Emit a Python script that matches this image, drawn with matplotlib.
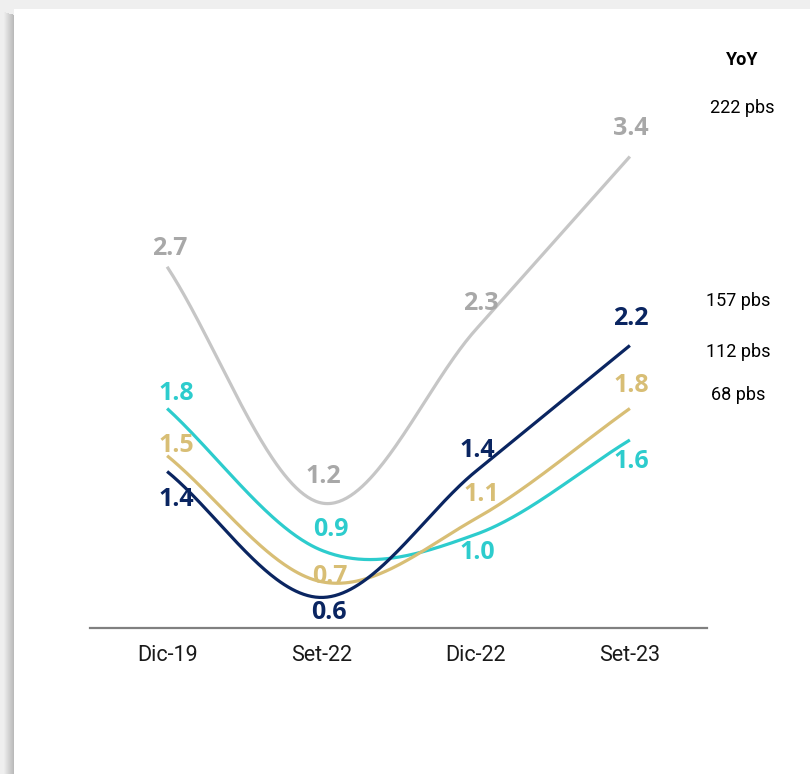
import matplotlib
matplotlib.use('Agg')
import matplotlib.pyplot as plt
from matplotlib.patches import Rectangle
import numpy as np

# data
periods = ['Dic-19', 'Set-22', 'Dic-22', 'Set-23']
gray_vals = [2.7, 1.2, 2.3, 3.4]
navy_vals = [1.4, 0.6, 1.4, 2.2]
gold_vals = [1.5, 0.7, 1.1, 1.8]
cyan_vals = [1.8, 0.9, 1.0, 1.6]
yoy_labels = ['222 pbs', '157 pbs', '112 pbs', '68 pbs']

# styles
c_gray_line = '#c6c6c6'
c_gray_text = '#a8a8a8'
c_navy = '#0a2561'
c_gold = '#d8be75'
c_cyan = '#2dcccd'

# label offsets in pixels (dx, dy with image y pointing down)
gray_off = [(3, -18), (2, -26), (5, -26), (1, -28)]
navy_off = [(9, 28), (8, 15), (2, -21), (1, -27)]
gold_off = [(9, -10), (8, -5), (6, -24), (1, -23)]
cyan_off = [(9, -15), (9, -21), (2, 18), (1, 22)]


def smooth(vals, n=80):
    # cubic hermite (catmull-rom style) through the points
    y = np.asarray(vals, dtype=float)
    k = len(y)
    m = np.zeros(k)
    m[1:-1] = (y[2:] - y[:-2]) / 2
    m[0] = y[1] - y[0]
    m[-1] = y[-1] - y[-2]
    xs, ys = [], []
    t = np.linspace(0, 1, n)
    for i in range(k - 1):
        h00 = 2*t**3 - 3*t**2 + 1
        h10 = t**3 - 2*t**2 + t
        h01 = -2*t**3 + 3*t**2
        h11 = t**3 - t**2
        xs.append(i + t)
        ys.append(h00*y[i] + h10*m[i] + h01*y[i+1] + h11*m[i+1])
    return np.concatenate(xs), np.concatenate(ys)


W, H = 810, 774
fig = plt.figure(figsize=(W/100, H/100), dpi=100)
fig.patch.set_facecolor('#efefef')

# white card with soft shadow on the left
for j in range(10):
    fig.patches.append(Rectangle(((4 + j)/W, 0), 1/W, (H - 12 - j*0.3)/H,
                                 transform=fig.transFigure, color='#777777',
                                 alpha=0.03 + 0.045*j, lw=0, zorder=-3))
fig.patches.append(Rectangle((14/W, 0), 1, (H - 9)/H, transform=fig.transFigure,
                             color='white', lw=0, zorder=-2))

ax = fig.add_axes([90/W, (H - 628)/H, 617/W, 528/H])
ax.set_facecolor('none')
ax.set_zorder(1)

x = np.arange(len(periods))
series = [
    (gray_vals, c_gray_line, c_gray_text, gray_off),
    (cyan_vals, c_cyan, c_cyan, cyan_off),
    (gold_vals, c_gold, c_gold, gold_off),
    (navy_vals, c_navy, c_navy, navy_off),
]
for vals, lc, tc, offs in series:
    sx, sy = smooth(vals)
    ax.plot(sx, sy, color=lc, lw=2.3, solid_capstyle='butt')
    for i, v in enumerate(vals):
        dx, dy = offs[i]
        ax.annotate(f'{v:.1f}', (x[i], v), xytext=(dx, -dy),
                    textcoords='offset pixels', ha='center', va='center',
                    fontsize=18, fontweight='bold', color=tc,
                    family='Open Sans')

ax.set_xlim(-0.5, 3.5)
ax.set_ylim(0.406, 3.759)
ax.set_xticks(x)
ax.set_xticklabels(periods, fontsize=15.5, family='Roboto', color='#1a1a1a')
ax.set_yticks([])
ax.tick_params(axis='x', length=0, pad=12)
for s in ['top', 'right', 'left']:
    ax.spines[s].set_visible(False)
ax.spines['bottom'].set_color('#808080')
ax.spines['bottom'].set_linewidth(1.6)

# YoY column on the right
fig.text(742/W, 1 - 60/H, 'YoY', ha='center', va='center', fontsize=13,
         fontweight='bold', family='Roboto', color='black')
yoy_pos = [(742, 108), (738, 301), (738, 352), (738, 395)]
for lab, (px, py) in zip(yoy_labels, yoy_pos):
    fig.text(px/W, 1 - py/H, lab, ha='center', va='center', fontsize=13,
             family='Roboto', color='black')

plt.savefig('out.png', dpi=100)
